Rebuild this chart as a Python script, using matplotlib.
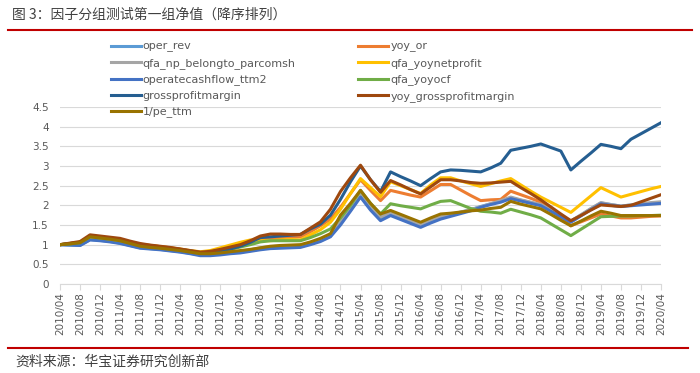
import matplotlib
matplotlib.use('Agg')
import matplotlib.pyplot as plt
import pandas as pd

plt.rcParams['font.family'] = ['DejaVu Sans']

# categories: every 2 months, 2010/04 .. 2020/04
dates = pd.date_range('2010-04-01', '2020-04-01', freq='2MS')
date_labels = [d.strftime('%Y/%m') for d in dates]

oper_rev = [1.00, 0.99, 0.98, 1.13, 1.11, 1.08, 1.04, 0.98, 0.92, 0.90, 0.88, 0.85, 0.82, 0.78, 0.74, 0.74,
            0.76, 0.79, 0.81, 0.85, 0.89, 0.92, 0.93, 0.94, 0.95, 1.02, 1.10, 1.22, 1.53, 1.88, 2.24, 1.91,
            1.64, 1.77, 1.67, 1.57, 1.47, 1.58, 1.68, 1.75, 1.82, 1.89, 1.97, 2.04, 2.10, 2.19, 2.13, 2.07,
            2.01, 1.87, 1.73, 1.59, 1.75, 1.91, 2.06, 2.02, 1.98, 2.01, 2.03, 2.05, 2.07]
yoy_or = [1.00, 1.03, 1.06, 1.21, 1.18, 1.15, 1.12, 1.06, 1.01, 0.98, 0.95, 0.92, 0.88, 0.84, 0.80, 0.82,
          0.87, 0.93, 0.99, 1.06, 1.14, 1.17, 1.18, 1.19, 1.20, 1.33, 1.48, 1.65, 1.95, 2.30, 2.65, 2.38,
          2.12, 2.38, 2.32, 2.26, 2.21, 2.37, 2.53, 2.53, 2.39, 2.25, 2.12, 2.14, 2.15, 2.36, 2.27, 2.18,
          2.08, 1.88, 1.68, 1.48, 1.58, 1.68, 1.78, 1.73, 1.68, 1.68, 1.70, 1.72, 1.73]
qfa_np = [1.00, 1.01, 1.02, 1.16, 1.13, 1.10, 1.06, 1.00, 0.94, 0.91, 0.89, 0.86, 0.83, 0.79, 0.75, 0.75,
          0.77, 0.80, 0.83, 0.87, 0.92, 0.95, 0.96, 0.97, 0.98, 1.05, 1.13, 1.25, 1.58, 1.95, 2.30, 1.98,
          1.70, 1.82, 1.72, 1.62, 1.51, 1.62, 1.72, 1.77, 1.83, 1.89, 1.96, 2.04, 2.12, 2.21, 2.14, 2.08,
          2.02, 1.88, 1.74, 1.60, 1.76, 1.92, 2.07, 2.02, 1.98, 2.01, 2.04, 2.07, 2.09]
qfa_yoynetprofit = [1.00, 1.03, 1.06, 1.22, 1.19, 1.16, 1.12, 1.07, 1.01, 0.98, 0.95, 0.92, 0.89, 0.85, 0.82, 0.85,
                    0.92, 0.99, 1.06, 1.12, 1.10, 1.10, 1.12, 1.13, 1.12, 1.25, 1.38, 1.57, 1.90, 2.30, 2.68, 2.45,
                    2.22, 2.60, 2.50, 2.40, 2.30, 2.52, 2.70, 2.70, 2.62, 2.55, 2.48, 2.55, 2.62, 2.68, 2.52, 2.36,
                    2.21, 2.08, 1.95, 1.82, 2.03, 2.24, 2.45, 2.33, 2.21, 2.28, 2.35, 2.42, 2.48]
operatecashflow = [1.00, 0.99, 0.98, 1.12, 1.10, 1.07, 1.03, 0.97, 0.91, 0.89, 0.87, 0.84, 0.81, 0.77, 0.72, 0.72,
                   0.74, 0.77, 0.79, 0.83, 0.87, 0.90, 0.91, 0.92, 0.93, 1.00, 1.08, 1.20, 1.50, 1.85, 2.21, 1.88,
                   1.61, 1.74, 1.64, 1.54, 1.44, 1.55, 1.65, 1.72, 1.79, 1.86, 1.95, 2.02, 2.08, 2.17, 2.11, 2.05,
                   1.99, 1.85, 1.71, 1.57, 1.73, 1.89, 2.04, 2.00, 1.97, 1.99, 2.01, 2.03, 2.05]
qfa_yoyocf = [1.00, 1.02, 1.05, 1.20, 1.17, 1.14, 1.10, 1.04, 0.98, 0.95, 0.92, 0.89, 0.86, 0.82, 0.78, 0.79,
              0.83, 0.88, 0.94, 1.00, 1.07, 1.10, 1.10, 1.10, 1.10, 1.18, 1.28, 1.40, 1.68, 2.00, 2.38, 2.05,
              1.78, 2.04, 1.99, 1.95, 1.91, 2.01, 2.10, 2.12, 2.02, 1.92, 1.85, 1.83, 1.80, 1.90, 1.83, 1.76,
              1.68, 1.53, 1.38, 1.23, 1.39, 1.55, 1.71, 1.72, 1.73, 1.73, 1.74, 1.74, 1.75]
grossprofitmargin = [1.00, 1.03, 1.06, 1.22, 1.19, 1.16, 1.12, 1.06, 1.00, 0.97, 0.94, 0.91, 0.88, 0.84, 0.80, 0.80,
                     0.84, 0.89, 0.96, 1.06, 1.18, 1.20, 1.22, 1.24, 1.26, 1.40, 1.52, 1.75, 2.15, 2.60, 3.00, 2.65,
                     2.35, 2.85, 2.73, 2.62, 2.50, 2.68, 2.85, 2.90, 2.89, 2.87, 2.85, 2.95, 3.07, 3.40, 3.45, 3.50,
                     3.56, 3.47, 3.38, 2.90, 3.12, 3.33, 3.55, 3.50, 3.44, 3.68, 3.82, 3.96, 4.10]
yoy_grossprofitmargin = [1.00, 1.04, 1.08, 1.25, 1.22, 1.19, 1.16, 1.09, 1.03, 0.99, 0.96, 0.93, 0.89, 0.85, 0.81, 0.83,
                         0.88, 0.94, 1.00, 1.10, 1.22, 1.27, 1.27, 1.26, 1.26, 1.42, 1.58, 1.90, 2.35, 2.70, 3.02, 2.65,
                         2.33, 2.63, 2.52, 2.40, 2.29, 2.47, 2.65, 2.65, 2.62, 2.58, 2.56, 2.57, 2.59, 2.61, 2.45, 2.30,
                         2.14, 1.96, 1.78, 1.61, 1.74, 1.88, 2.01, 1.99, 1.97, 2.00, 2.09, 2.18, 2.27]
pe_ttm_inv = [1.00, 1.02, 1.05, 1.20, 1.17, 1.14, 1.10, 1.03, 0.96, 0.93, 0.91, 0.88, 0.85, 0.81, 0.77, 0.77,
              0.79, 0.82, 0.85, 0.88, 0.92, 0.96, 0.98, 0.99, 1.00, 1.07, 1.16, 1.28, 1.75, 2.05, 2.38, 2.05,
              1.78, 1.87, 1.77, 1.67, 1.57, 1.68, 1.78, 1.80, 1.83, 1.86, 1.88, 1.92, 1.95, 2.10, 2.03, 1.97,
              1.91, 1.77, 1.62, 1.48, 1.60, 1.73, 1.85, 1.80, 1.74, 1.74, 1.74, 1.74, 1.74]

series = [
    ('oper_rev', oper_rev, '#5B9BD5'),
    ('yoy_or', yoy_or, '#ED7D31'),
    ('qfa_np_belongto_parcomsh', qfa_np, '#A5A5A5'),
    ('qfa_yoynetprofit', qfa_yoynetprofit, '#FFC000'),
    ('operatecashflow_ttm2', operatecashflow, '#4472C4'),
    ('qfa_yoyocf', qfa_yoyocf, '#70AD47'),
    ('grossprofitmargin', grossprofitmargin, '#255E91'),
    ('yoy_grossprofitmargin', yoy_grossprofitmargin, '#9E480E'),
    ('1/pe_ttm', pe_ttm_inv, '#997300'),
]

fig = plt.figure(figsize=(7, 3.73), dpi=100)
ax = fig.add_axes([60 / 700, 1 - 284 / 373, 601 / 700, 177 / 373])

x = range(len(date_labels))
handles = {}
for name, vals, col in series:
    ln, = ax.plot(x, vals, color=col, lw=2.2, solid_joinstyle='round', label=name)
    handles[name] = ln

ax.set_xlim(0, len(date_labels) - 1)
ax.set_ylim(0, 4.5)
ax.set_yticks([i * 0.5 for i in range(10)])
ax.set_yticklabels(['0', '0.5', '1', '1.5', '2', '2.5', '3', '3.5', '4', '4.5'])
ax.set_xticks(list(x)[::2])
ax.set_xticklabels(date_labels[::2], rotation=90)

ax.grid(axis='y', color='#D9D9D9', lw=0.8)
ax.set_axisbelow(True)
for s in ['top', 'right', 'left']:
    ax.spines[s].set_visible(False)
ax.spines['bottom'].set_color('#D9D9D9')
ax.tick_params(axis='y', length=0, labelsize=7.5, labelcolor='#595959', pad=8)
ax.tick_params(axis='x', length=4, color='#D9D9D9', labelsize=7.5, labelcolor='#595959', pad=2)

# legend: two columns, no frame, above plot area
order = ['oper_rev', 'qfa_np_belongto_parcomsh', 'operatecashflow_ttm2', 'grossprofitmargin', '1/pe_ttm',
         'yoy_or', 'qfa_yoynetprofit', 'qfa_yoyocf', 'yoy_grossprofitmargin']
fig.legend([handles[n] for n in order], order, loc='upper left', bbox_to_anchor=(105 / 700, 1 - 36 / 373),
           ncol=2, frameon=False, fontsize=8, handlelength=2.7, handletextpad=0.2, columnspacing=5.6,
           labelspacing=0.5, borderpad=0, labelcolor='#595959')

# title, source and red rules
cjk = ['Noto Sans CJK SC', 'DejaVu Sans']
fig.text(12 / 700, 1 - 15 / 373, '图 3：因子分组测试第一组净值（降序排列）', family=cjk, fontsize=10,
         color='#404040', va='center', ha='left')
fig.add_artist(plt.Line2D([8 / 700, 692 / 700], [1 - 30 / 373, 1 - 30 / 373], color='#C00000', lw=1.5))
fig.add_artist(plt.Line2D([8 / 700, 688 / 700], [1 - 348 / 373, 1 - 348 / 373], color='#C00000', lw=1.5))
fig.text(15 / 700, 1 - 362 / 373, '资料来源：华宝证券研究创新部', family=cjk, fontsize=10,
         color='#404040', va='center', ha='left')

fig.savefig('out.png', dpi=100)
